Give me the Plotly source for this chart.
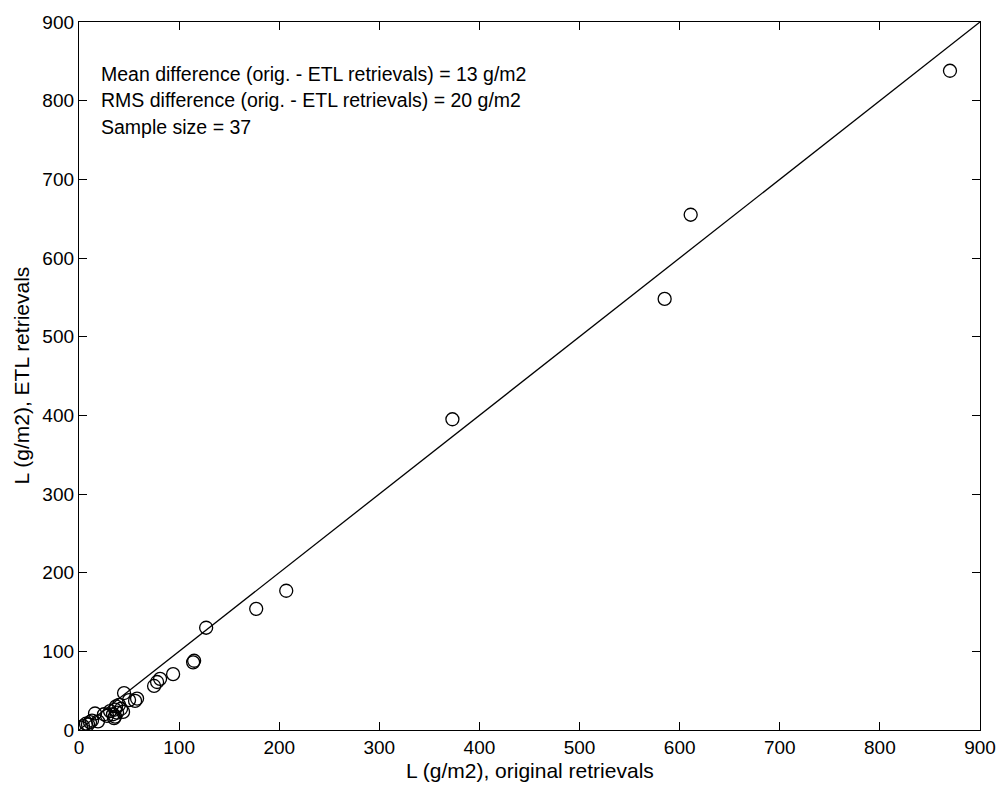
import plotly.graph_objects as go

orig = [870, 611, 585, 373, 207, 177, 127, 115, 114, 94, 81, 78, 75, 58, 56, 45,
        44, 37, 36, 38, 36, 34, 31, 25, 16, 19, 11, 7, 4, 2, 40, 42, 35, 28, 9, 13, 50]
etl = [838, 655, 548, 395, 177, 154, 130, 88, 86, 71, 65, 61, 56, 40, 37, 47,
       23, 30, 26, 22, 17, 20, 24, 20, 21, 11, 10, 8, 5, 3, 32, 27, 15, 18, 7, 12, 38]
line_x = [0, 900]
line_y = [0, 900]
ticks = [0, 100, 200, 300, 400, 500, 600, 700, 800, 900]
stats = [
    "Mean difference (orig. - ETL retrievals) = 13 g/m2",
    "RMS difference (orig. - ETL retrievals) = 20 g/m2",
    "Sample size = 37",
]

FONT = "Liberation Sans, Arial, sans-serif"
L, R, T, B = 79, 988, 17, 730
W, H = R - L, B - T

fig = go.Figure()
fig.add_trace(go.Scatter(x=line_x, y=line_y, mode="lines",
                         line=dict(color="black", width=1.3), hoverinfo="skip"))
fig.add_trace(go.Scatter(x=orig, y=etl, mode="markers",
                         marker=dict(symbol="circle-open", size=13,
                                     color="black", line=dict(width=1.3))))

axis_common = dict(range=[0, 900], tickvals=ticks, ticks="inside", ticklen=8,
                   tickcolor="black", showline=True, linecolor="black", linewidth=1.3,
                   mirror="ticks", showgrid=False, zeroline=False,
                   tickfont=dict(family=FONT, size=19, color="black"))
fig.update_xaxes(**axis_common)
fig.update_yaxes(**axis_common)

annos = []
for i, t in enumerate(stats):
    annos.append(dict(x=(99 - L) / W, y=1 - (69 + 27 * i - T) / H,
                      xref="paper", yref="paper", text=t, showarrow=False,
                      xanchor="left", yanchor="middle",
                      font=dict(family=FONT, size=19.5, color="black")))
annos.append(dict(x=0.5, y=-(771 - B) / H, xref="paper", yref="paper",
                  text="L (g/m2), original retrievals", showarrow=False,
                  xanchor="center", yanchor="middle",
                  font=dict(family=FONT, size=21, color="black")))
annos.append(dict(x=-(L - 20) / W, y=0.5, xref="paper", yref="paper",
                  text="L (g/m2), ETL retrievals", showarrow=False, textangle=-90,
                  xanchor="center", yanchor="middle",
                  font=dict(family=FONT, size=21, color="black")))
fig.update_layout(annotations=annos)

fig.update_layout(width=1008, height=786, showlegend=False,
                  margin=dict(l=L, r=1008 - R, t=T, b=786 - B),
                  paper_bgcolor="white", plot_bgcolor="white")

fig.write_html("out.html", config={"displayModeBar": False},
               post_script="document.body.style.margin='0';")
